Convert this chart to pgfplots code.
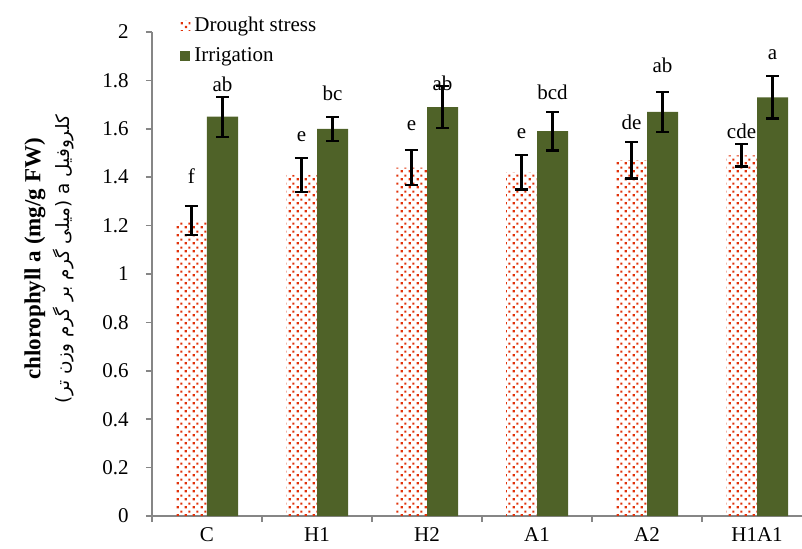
\documentclass[border=0pt]{standalone}
\usepackage{fontspec}
\setmainfont{Liberation Serif}
\newfontfamily\arabicfont[Script=Arabic]{DejaVu Sans}
\TeXXeTstate=1
\usepackage{pgfplots}
\usepackage{pgfplotstable}
\pgfplotsset{compat=1.18}
\usetikzlibrary{patterns.meta,calc}

\definecolor{irrgreen}{HTML}{4F6228}
\definecolor{dotred}{RGB}{225,50,10}
\definecolor{axisgray}{HTML}{868686}

% small offset dot grid used for the drought bars
\tikzdeclarepattern{
  name=redots,
  type=uncolored,
  bounding box={(0,0) and (4pt,4pt)},
  tile size={(4pt,4pt)},
  code={
    \fill (0.4pt,0.4pt) rectangle (1.6pt,1.6pt);
    \fill (2.4pt,2.4pt) rectangle (3.6pt,3.6pt);
  }
}

\pgfplotstableread{
x drought derr irr ierr
0 1.22 0.060 1.65 0.083
1 1.41 0.071 1.60 0.050
2 1.44 0.072 1.69 0.086
3 1.42 0.071 1.59 0.080
4 1.47 0.075 1.67 0.083
5 1.49 0.046 1.73 0.087
}\chltable

\pgfplotstableread{
x y lab
-0.141 1.376 f
0.141 1.755 ab
0.859 1.548 e
1.141 1.716 bc
1.859 1.591 e
2.141 1.757 ab
2.859 1.558 e
3.141 1.722 bcd
3.859 1.599 de
4.141 1.833 ab
4.859 1.558 cde
5.141 1.886 a
}\labtable

\begin{document}
\fontsize{10.5}{12.6}\selectfont
\begin{tikzpicture}
\begin{axis}[
  name=ax,
  scale only axis,
  width=325pt, height=242pt,
  xmin=-0.5, xmax=5.409,
  ymin=0, ymax=2,
  axis lines*=left,
  axis line style={draw=axisgray, line width=0.8pt},
  tick style={draw=axisgray, line width=0.8pt},
  tick align=outside,
  major tick length=3pt, minor tick length=3pt,
  xtick={0,...,5},
  xticklabels={C,H1,H2,A1,A2,H1A1},
  major x tick style={draw=none},
  minor xtick={-0.5,0.5,1.5,2.5,3.5,4.5},
  ytick={0,0.2,...,2.01},
  /pgf/number format/assume math mode=true,
  /pgf/number format/fixed,
  /pgf/number format/precision=1,
  ticklabel style={font=\fontsize{10.5}{12.6}\selectfont},
  yticklabel style={xshift=-5pt},
  xticklabel style={yshift=1pt},
  ylabel={\fontsize{11.5}{13}\selectfont\bfseries chlorophyll a (mg/g FW)\\[2pt]
          {\arabicfont\fontsize{9.2}{10}\selectfont\beginR کلروفیل a (میلی گرم بر گرم وزن تر)\endR}},
  ylabel style={align=center, at={(axis description cs:-0.158,0.531)}, anchor=center},
  legend style={at={(axis description cs:0.043,1.041)}, anchor=north west,
    draw=none, fill=none, font=\fontsize{10.5}{12.6}\selectfont,
    row sep=2.5pt, inner sep=0pt},
  legend cell align=left,
  legend image code/.code={\path[#1, draw=none] (0pt,-2.5pt) rectangle (5pt,2.5pt);},
  error bars/error bar style={line width=1.1pt, black},
  error bars/error mark options={rotate=90, mark size=3.25pt, line width=1.1pt, black},
  clip=false,
]
\addplot[ybar, bar width=15.5pt, bar shift=-7.75pt, draw=none,
  pattern=redots, pattern color=dotred]
  table[x=x, y=drought]{\chltable};
\addlegendentry{Drought stress}
\addplot[ybar, bar width=15.5pt, bar shift=7.75pt, draw=none, fill=irrgreen]
  table[x=x, y=irr]{\chltable};
\addlegendentry{Irrigation}
% error bars, drawn at the centres of the two bars of each group
\addplot[draw=none, mark=none, forget plot,
  error bars/.cd, y dir=both, y explicit]
  table[x expr=\thisrow{x}-0.141, y=drought, y error=derr]{\chltable};
\addplot[draw=none, mark=none, forget plot,
  error bars/.cd, y dir=both, y explicit]
  table[x expr=\thisrow{x}+0.141, y=irr, y error=ierr]{\chltable};
% significance letters
\addplot[draw=none, mark=none, forget plot,
  nodes near coords, point meta=explicit symbolic,
  every node near coord/.append style={anchor=base, inner sep=0pt,
    font=\fontsize{10.5}{12.6}\selectfont}]
  table[x=x, y=y, meta=lab]{\labtable};
\end{axis}
\pgfresetboundingbox
\path[use as bounding box] ($(ax.south west)+(-76pt,-16pt)$) rectangle ($(ax.south west)+(325pt,258pt)$);
\end{tikzpicture}
\end{document}
